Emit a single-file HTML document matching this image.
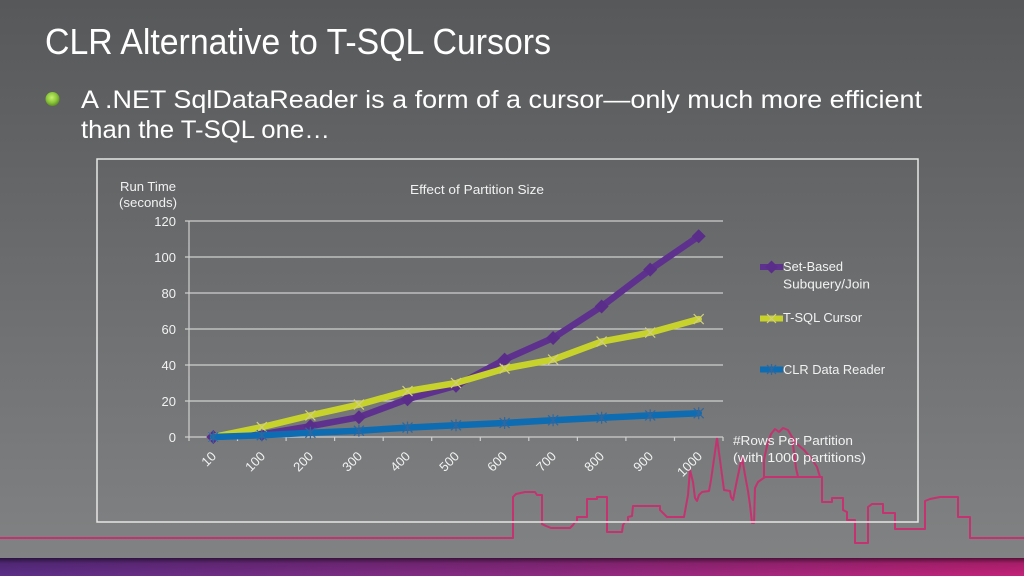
<!DOCTYPE html>
<html>
<head>
<meta charset="utf-8">
<style>
html,body{margin:0;padding:0;width:1024px;height:576px;overflow:hidden;background:#66686a;}
svg{display:block;}
text{font-family:"Liberation Sans",sans-serif;}
</style>
</head>
<body>
<svg width="1024" height="576" viewBox="0 0 1024 576" xmlns="http://www.w3.org/2000/svg">
<defs>
<linearGradient id="bg" x1="0" y1="0" x2="0" y2="1">
<stop offset="0" stop-color="#56585a"/>
<stop offset="0.5" stop-color="#6b6d6f"/>
<stop offset="1" stop-color="#808283"/>
</linearGradient>
<linearGradient id="bar" x1="0" y1="0" x2="1" y2="0">
<stop offset="0" stop-color="#5c2e88"/>
<stop offset="0.5" stop-color="#8a2a82"/>
<stop offset="1" stop-color="#c4237a"/>
</linearGradient>
<linearGradient id="barshade" x1="0" y1="0" x2="0" y2="1">
<stop offset="0" stop-color="#000" stop-opacity="0.55"/>
<stop offset="0.3" stop-color="#000" stop-opacity="0.15"/>
<stop offset="1" stop-color="#000" stop-opacity="0"/>
</linearGradient>
<radialGradient id="bul" cx="0.45" cy="0.4" r="0.6">
<stop offset="0" stop-color="#c6f070"/>
<stop offset="0.6" stop-color="#8cc83a"/>
<stop offset="1" stop-color="#5e8f24"/>
</radialGradient>
</defs>

<rect x="0" y="0" width="1024" height="558" fill="url(#bg)"/>
<rect x="0" y="558" width="1024" height="18" fill="url(#bar)"/>
<rect x="0" y="558" width="1024" height="18" fill="url(#barshade)"/>

<!-- Title -->
<text x="45" y="54" font-size="36" fill="#ffffff" textLength="506" lengthAdjust="spacingAndGlyphs">CLR Alternative to T-SQL Cursors</text>

<!-- Bullet -->
<circle cx="52.5" cy="99" r="7" fill="url(#bul)"/>
<text x="81" y="108" font-size="25" fill="#ffffff" textLength="841" lengthAdjust="spacingAndGlyphs">A .NET SqlDataReader is a form of a cursor—only much more efficient</text>
<text x="81" y="138" font-size="25" fill="#ffffff" textLength="249" lengthAdjust="spacingAndGlyphs">than the T-SQL one…</text>

<!-- Skyline -->
<g fill="none" stroke="#c4336f" stroke-width="2" stroke-linejoin="round">
<path d="M0,538 L513,538 L513,497 L516,494 L525,492 L535,492 L537,495 L542,495 L542,524 L546,526 L551,528 L570,528 L573,525 L575,522 L577,522 L577,517 L587,517 L587,499 L597,499 L597,497 L607,497 L607,532 L622,532 L623,525 L625,522 L628,522 L628,517 L632,516 L633,506 L660,506 L660,510 L663,513 L667,517 L684,517 L688,495 L690,470 L693,482 L695,498 L697,501 L699,495 L702,492 L709,491 L711,480 L717,438 L720,460 L724,490 L730,491 L731,497 L733,500 L737,480 L742,457 L745,475 L748,491 L750,505 L752,523 L754,523 L755,488 L758,482 L765,477 L822,477 L822,502 L832,502 L832,498 L843,498 L843,510 L847,512 L847,520 L855,520 L855,543 L868,543 L868,507 L872,504 L883,504 L883,513 L895,513 L895,529 L925,529 L925,501 L930,499 L940,497 L958,497 L958,517 L970,517 L970,538 L1024,538"/>
<path d="M764,477 L764,460 L767,446 L771,434 L775,429 L779,432 L783,428 L788,430 L792,437 L797,444 L804,450 L811,458 L817,467 L820,477"/>
<path d="M792,437 L794,452 L796,468 L798,477"/>
</g>

<!-- Chart frame -->
<rect x="97" y="159" width="821" height="363" fill="none" stroke="#e6e6e6" stroke-width="1.5"/>

<!-- Gridlines -->
<g stroke="#cfcfcf" stroke-width="1.2">
<line x1="185" y1="221" x2="723" y2="221"/>
<line x1="185" y1="257" x2="723" y2="257"/>
<line x1="185" y1="293" x2="723" y2="293"/>
<line x1="185" y1="329" x2="723" y2="329"/>
<line x1="185" y1="365" x2="723" y2="365"/>
<line x1="185" y1="401" x2="723" y2="401"/>
<line x1="185" y1="437" x2="723" y2="437"/>
<line x1="189" y1="221" x2="189" y2="441"/>
<line x1="237.5" y1="437" x2="237.5" y2="441"/>
<line x1="286.1" y1="437" x2="286.1" y2="441"/>
<line x1="334.6" y1="437" x2="334.6" y2="441"/>
<line x1="383.2" y1="437" x2="383.2" y2="441"/>
<line x1="431.7" y1="437" x2="431.7" y2="441"/>
<line x1="480.3" y1="437" x2="480.3" y2="441"/>
<line x1="528.8" y1="437" x2="528.8" y2="441"/>
<line x1="577.4" y1="437" x2="577.4" y2="441"/>
<line x1="625.9" y1="437" x2="625.9" y2="441"/>
<line x1="674.5" y1="437" x2="674.5" y2="441"/>
<line x1="723" y1="437" x2="723" y2="441"/>
</g>

<!-- Axis titles -->
<g fill="#f2f2f2" font-size="13">
<text x="410" y="194" textLength="134" lengthAdjust="spacingAndGlyphs">Effect of Partition Size</text>
<text x="120" y="191" textLength="56" lengthAdjust="spacingAndGlyphs">Run Time</text>
<text x="119" y="207" textLength="58" lengthAdjust="spacingAndGlyphs">(seconds)</text>
<g text-anchor="end">
<text x="176" y="226">120</text>
<text x="176" y="262">100</text>
<text x="176" y="298">80</text>
<text x="176" y="334">60</text>
<text x="176" y="370">40</text>
<text x="176" y="406">20</text>
<text x="176" y="442">0</text>
</g>
<g text-anchor="end">
<text transform="translate(217,457) rotate(-45)">10</text>
<text transform="translate(266,457) rotate(-45)">100</text>
<text transform="translate(314,457) rotate(-45)">200</text>
<text transform="translate(363,457) rotate(-45)">300</text>
<text transform="translate(411,457) rotate(-45)">400</text>
<text transform="translate(460,457) rotate(-45)">500</text>
<text transform="translate(508,457) rotate(-45)">600</text>
<text transform="translate(557,457) rotate(-45)">700</text>
<text transform="translate(605,457) rotate(-45)">800</text>
<text transform="translate(654,457) rotate(-45)">900</text>
<text transform="translate(703,457) rotate(-45)">1000</text>
</g>
<text x="733" y="445" textLength="120" lengthAdjust="spacingAndGlyphs">#Rows Per Partition</text>
<text x="733" y="462" textLength="133" lengthAdjust="spacingAndGlyphs">(with 1000 partitions)</text>
<text x="783" y="271" textLength="60" lengthAdjust="spacingAndGlyphs">Set-Based</text>
<text x="783" y="288.5" textLength="87" lengthAdjust="spacingAndGlyphs">Subquery/Join</text>
<text x="783" y="322" textLength="79" lengthAdjust="spacingAndGlyphs">T-SQL Cursor</text>
<text x="783" y="374" textLength="102" lengthAdjust="spacingAndGlyphs">CLR Data Reader</text>
</g>

<!-- Series: Set-Based -->
<polyline fill="none" stroke="#5e318f" stroke-width="6.5" stroke-linejoin="round" stroke-linecap="round"
points="213.3,437 261.8,434.3 310.4,426.2 358.9,417.2 407.5,399.2 456,385.7 504.6,359.6 553.1,338 601.6,306.5 650.2,269.6 698.7,236.3"/>
<g fill="#5b2d8b">
<polygon points="213.3,430 220.3,437 213.3,444 206.3,437"/>
<polygon points="261.8,427.3 268.8,434.3 261.8,441.3 254.8,434.3"/>
<polygon points="310.4,419.2 317.4,426.2 310.4,433.2 303.4,426.2"/>
<polygon points="358.9,410.2 365.9,417.2 358.9,424.2 351.9,417.2"/>
<polygon points="407.5,392.2 414.5,399.2 407.5,406.2 400.5,399.2"/>
<polygon points="456,378.7 463,385.7 456,392.7 449,385.7"/>
<polygon points="504.6,352.6 511.6,359.6 504.6,366.6 497.6,359.6"/>
<polygon points="553.1,331 560.1,338 553.1,345 546.1,338"/>
<polygon points="601.6,299.5 608.6,306.5 601.6,313.5 594.6,306.5"/>
<polygon points="650.2,262.6 657.2,269.6 650.2,276.6 643.2,269.6"/>
<polygon points="698.7,229.3 705.7,236.3 698.7,243.3 691.7,236.3"/>
</g>

<!-- Series: T-SQL Cursor -->
<polyline fill="none" stroke="#c8d22c" stroke-width="6.5" stroke-linejoin="round" stroke-linecap="round"
points="213.3,437 261.8,427.1 310.4,415.4 358.9,404.6 407.5,391.1 456,383 504.6,368.6 553.1,359.6 601.6,341.6 650.2,332.6 698.7,319.1"/>
<g stroke="#d2cf80" stroke-width="1.2">
<path d="M208.3,432 l10,10 M208.3,442 l10,-10"/>
<path d="M256.8,422.1 l10,10 M256.8,432.1 l10,-10"/>
<path d="M305.4,410.4 l10,10 M305.4,420.4 l10,-10"/>
<path d="M353.9,399.6 l10,10 M353.9,409.6 l10,-10"/>
<path d="M402.5,386.1 l10,10 M402.5,396.1 l10,-10"/>
<path d="M451,378 l10,10 M451,388 l10,-10"/>
<path d="M499.6,363.6 l10,10 M499.6,373.6 l10,-10"/>
<path d="M548.1,354.6 l10,10 M548.1,364.6 l10,-10"/>
<path d="M596.6,336.6 l10,10 M596.6,346.6 l10,-10"/>
<path d="M645.2,327.6 l10,10 M645.2,337.6 l10,-10"/>
<path d="M693.7,314.1 l10,10 M693.7,324.1 l10,-10"/>
</g>

<!-- Series: CLR Data Reader -->
<polyline fill="none" stroke="#0d6cb2" stroke-width="6.5" stroke-linejoin="round" stroke-linecap="round"
points="213.3,437 261.8,435.2 310.4,432.7 358.9,430.7 407.5,427.6 456,425.3 504.6,423 553.1,420.3 601.6,417.7 650.2,415.4 698.7,413.2"/>
<g stroke="#2f67a0" stroke-width="1.2">
<path d="M208.3,432 l10,10 M208.3,442 l10,-10 M213.3,431 v12"/>
<path d="M256.8,430.2 l10,10 M256.8,440.2 l10,-10 M261.8,429.2 v12"/>
<path d="M305.4,427.7 l10,10 M305.4,437.7 l10,-10 M310.4,426.7 v12"/>
<path d="M353.9,425.7 l10,10 M353.9,435.7 l10,-10 M358.9,424.7 v12"/>
<path d="M402.5,422.6 l10,10 M402.5,432.6 l10,-10 M407.5,421.6 v12"/>
<path d="M451,420.3 l10,10 M451,430.3 l10,-10 M456,419.3 v12"/>
<path d="M499.6,418 l10,10 M499.6,428 l10,-10 M504.6,417 v12"/>
<path d="M548.1,415.3 l10,10 M548.1,425.3 l10,-10 M553.1,414.3 v12"/>
<path d="M596.6,412.7 l10,10 M596.6,422.7 l10,-10 M601.6,411.7 v12"/>
<path d="M645.2,410.4 l10,10 M645.2,420.4 l10,-10 M650.2,409.4 v12"/>
<path d="M693.7,408.2 l10,10 M693.7,418.2 l10,-10 M698.7,407.2 v12"/>
</g>

<!-- Legend keys -->
<line x1="760" y1="267" x2="783" y2="267" stroke="#5e318f" stroke-width="6"/>
<polygon points="771.5,260.5 778,267 771.5,273.5 765,267" fill="#5b2d8b"/>
<line x1="760" y1="318.5" x2="783" y2="318.5" stroke="#c8d22c" stroke-width="6"/>
<path d="M767,314 l9,9 M767,323 l9,-9" stroke="#d2cf80" stroke-width="1.2"/>
<line x1="760" y1="369.5" x2="783" y2="369.5" stroke="#0d6cb2" stroke-width="6"/>
<path d="M767,365 l9,9 M767,374 l9,-9 M771.5,364 v11" stroke="#2f67a0" stroke-width="1.2"/>
</svg>
</body>
</html>
